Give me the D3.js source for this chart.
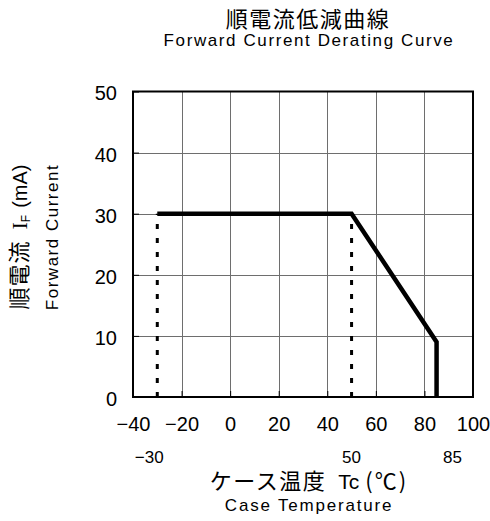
<!DOCTYPE html>
<html lang="ja">
<head>
<meta charset="utf-8">
<title>順電流低減曲線</title>
<script src="https://d3js.org/d3.v7.min.js"></script>
<style>
  body { margin: 0; background: #fff; }
  .cjk { font-family: "Noto Sans CJK JP", sans-serif; }
  .lat { font-family: "Liberation Sans", Arial, sans-serif; }
</style>
</head>
<body>
<script>
// data
var tempTicks = [-40, -20, 0, 20, 40, 60, 80, 100];
var currentTicks = [0, 10, 20, 30, 40, 50];
var curveTemp = [-30, 50, 85, 85];
var curveCurrent = [30, 30, 9, 0];
var dropTemps = [-30, 50];
var dropLevel = 30;
var noteTemps = [-30, 50, 85];

// layout
var W = 490, H = 521;
var plotL = 133, plotR = 473, plotT = 91.5, plotB = 397;
var noteShift = [-8, 0, 16];

var svg = d3.select("body").append("svg")
  .attr("width", W).attr("height", H);

var x = d3.scaleLinear().domain([-40, 100]).range([plotL, plotR]);
var y = d3.scaleLinear().domain([0, 50]).range([plotB, plotT]);

// grid
var grid = svg.append("g").attr("stroke", "#6e6e6e").attr("stroke-width", 1);
grid.selectAll("line.gx")
  .data(tempTicks.slice(1, -1))
  .enter().append("line")
    .attr("x1", function(d) { return Math.round(x(d)) + 0.5; })
    .attr("x2", function(d) { return Math.round(x(d)) + 0.5; })
    .attr("y1", plotT).attr("y2", plotB);
grid.selectAll("line.gy")
  .data(currentTicks.slice(1, -1))
  .enter().append("line")
    .attr("y1", function(d) { return Math.round(y(d)) + 0.5; })
    .attr("y2", function(d) { return Math.round(y(d)) + 0.5; })
    .attr("x1", plotL).attr("x2", plotR);

// axes (labels only, ticks pointing inward)
var xAxis = svg.append("g")
  .attr("transform", "translate(0," + plotB + ")")
  .call(d3.axisBottom(x).tickValues(tempTicks).tickSizeInner(-6).tickSizeOuter(0).tickPadding(20));
var yAxis = svg.append("g")
  .attr("transform", "translate(" + plotL + ",0)")
  .call(d3.axisLeft(y).tickValues(currentTicks).tickSizeInner(-6).tickSizeOuter(0).tickPadding(16));
[xAxis, yAxis].forEach(function(a) {
  a.select(".domain").remove();
  a.selectAll(".tick line").attr("stroke", "#000");
  a.selectAll(".tick text")
    .attr("class", "lat")
    .attr("font-size", 20)
    .attr("fill", "#000");
});
yAxis.selectAll(".tick text").attr("dy", "0.42em");

// frame
svg.append("rect")
  .attr("x", plotL).attr("y", plotT)
  .attr("width", plotR - plotL).attr("height", plotB - plotT)
  .attr("fill", "none").attr("stroke", "#000").attr("stroke-width", 2);

// dotted drop lines
svg.selectAll("line.drop")
  .data(dropTemps)
  .enter().append("line")
    .attr("x1", function(d) { return x(d); })
    .attr("x2", function(d) { return x(d); })
    .attr("y1", y(0)).attr("y2", y(dropLevel))
    .attr("stroke", "#000").attr("stroke-width", 3)
    .attr("stroke-dasharray", "5,9");

// derating curve
var pts = curveTemp.map(function(t, i) { return [t, curveCurrent[i]]; });
svg.append("path")
  .datum(pts)
  .attr("d", d3.line().x(function(d) { return x(d[0]); }).y(function(d) { return y(d[1]); }))
  .attr("fill", "none").attr("stroke", "#000").attr("stroke-width", 4.5)
  .attr("stroke-linejoin", "miter");

// notes under the axis
svg.selectAll("text.note")
  .data(noteTemps)
  .enter().append("text")
    .attr("class", "lat")
    .attr("x", function(d, i) { return x(d) + noteShift[i]; })
    .attr("y", 463)
    .attr("text-anchor", "middle")
    .attr("font-size", 17)
    .text(function(d) { return d < 0 ? "\u2212" + (-d) : d; });

// titles
svg.append("text").attr("class", "cjk")
  .attr("x", 308).attr("y", 27)
  .attr("text-anchor", "middle").attr("font-size", 22)
  .attr("letter-spacing", 1.5)
  .text("順電流低減曲線");
svg.append("text").attr("class", "lat")
  .attr("x", 309).attr("y", 46)
  .attr("text-anchor", "middle").attr("font-size", 17)
  .attr("letter-spacing", 1.6)
  .text("Forward Current Derating Curve");

// x axis title
var xt = svg.append("text")
  .attr("x", 309).attr("y", 489)
  .attr("text-anchor", "middle").attr("font-size", 22);
xt.append("tspan").attr("class", "cjk").attr("letter-spacing", 1.5).text("ケース温度");
xt.append("tspan").attr("class", "lat").attr("font-size", 21).attr("dx", 12).text("Tc");
xt.append("tspan").attr("class", "cjk").attr("dx", 6).attr("letter-spacing", 2).text("(℃)");
svg.append("text").attr("class", "lat")
  .attr("x", 309).attr("y", 511)
  .attr("text-anchor", "middle").attr("font-size", 17)
  .attr("letter-spacing", 1.8)
  .text("Case Temperature");

// y axis title
var yt = svg.append("text")
  .attr("transform", "translate(27,237) rotate(-90)")
  .attr("text-anchor", "middle").attr("font-size", 22);
yt.append("tspan").attr("class", "cjk").attr("letter-spacing", 1).text("順電流");
yt.append("tspan").attr("dx", 11).attr("font-family", "Liberation Serif").text("I");
yt.append("tspan").attr("class", "lat").attr("font-size", 12).attr("dy", 3).text("F");
yt.append("tspan").attr("class", "lat").attr("font-size", 20).attr("dx", 7).attr("dy", -3).text("(mA)");
svg.append("text").attr("class", "lat")
  .attr("transform", "translate(58,237) rotate(-90)")
  .attr("text-anchor", "middle").attr("font-size", 17)
  .attr("letter-spacing", 1.5)
  .text("Forward Current");
</script>
</body>
</html>
